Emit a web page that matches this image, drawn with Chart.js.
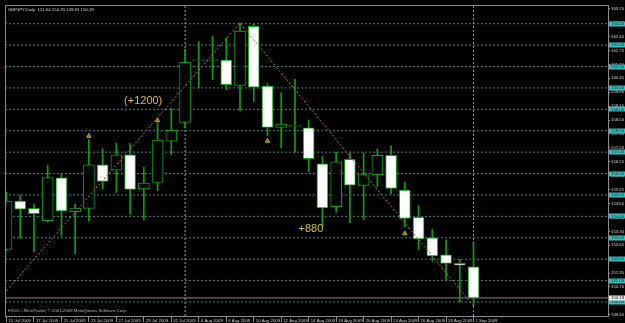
<!DOCTYPE html>
<html>
<head>
<meta charset="utf-8">
<title>GBPJPY Daily</title>
<script src="https://cdn.jsdelivr.net/npm/chart.js@4.4.1/dist/chart.umd.min.js"></script>
<style>
  html, body { margin: 0; padding: 0; background: #000; }
  #wrap { width: 625px; height: 323px; }
</style>
</head>
<body>
<div id="wrap"><canvas id="chart" width="625" height="323"></canvas></div>
<script>
// ---- data ----
const symbol = 'GBPJPY,Daily';
const dates = ['15 Jul 2009', '16 Jul 2009', '17 Jul 2009', '20 Jul 2009', '21 Jul 2009', '22 Jul 2009',
  '23 Jul 2009', '24 Jul 2009', '27 Jul 2009', '28 Jul 2009', '29 Jul 2009', '30 Jul 2009', '31 Jul 2009',
  '3 Aug 2009', '4 Aug 2009', '5 Aug 2009', '6 Aug 2009', '7 Aug 2009', '10 Aug 2009', '11 Aug 2009',
  '12 Aug 2009', '13 Aug 2009', '14 Aug 2009', '17 Aug 2009', '18 Aug 2009', '19 Aug 2009', '20 Aug 2009',
  '21 Aug 2009', '24 Aug 2009', '25 Aug 2009', '26 Aug 2009', '27 Aug 2009', '28 Aug 2009', '31 Aug 2009',
  '1 Sep 2009'];
const opens  = [152.46, 154.71, 154.37, 153.80, 155.80, 154.22, 154.37, 156.41, 156.16, 156.87, 155.28, 155.58,
  157.51, 158.39, 161.27, 161.28, 161.30, 160.12, 162.88, 160.09, 158.16, 158.20, 158.13, 156.45, 154.45,
  156.66, 155.45, 155.95, 156.85, 155.23, 153.95, 153.00, 152.20, 151.80, 151.64];
const highs  = [155.14, 154.99, 154.57, 156.39, 156.00, 154.57, 157.59, 157.16, 157.42, 157.40, 156.29, 158.36,
  159.05, 161.80, 162.16, 162.42, 162.34, 163.03, 162.99, 160.20, 159.77, 160.40, 158.50, 156.80, 157.00,
  157.00, 156.95, 157.15, 157.30, 155.60, 154.50, 153.40, 152.90, 152.00, 152.73];
const lows   = [152.40, 152.99, 152.35, 153.73, 153.07, 152.26, 153.79, 155.29, 155.11, 154.09, 153.82, 155.20,
  156.88, 158.13, 160.00, 160.38, 159.92, 158.94, 159.35, 157.77, 157.20, 157.00, 156.10, 153.55, 154.20,
  153.70, 153.85, 155.40, 155.05, 153.50, 152.45, 151.90, 151.00, 149.99, 149.81];
const closes = [154.71, 154.34, 154.13, 155.81, 154.25, 154.39, 156.41, 155.63, 156.87, 155.26, 155.55, 157.56,
  158.02, 161.19, 161.29, 161.31, 160.15, 162.65, 160.04, 158.16, 158.31, 158.26, 156.70, 154.40, 156.55,
  155.46, 155.95, 156.85, 155.30, 153.90, 152.95, 152.15, 151.80, 151.72, 150.19];

// right price scale labels
const priceTicks = [163.70, 163.05, 162.40, 161.75, 161.10, 160.45, 159.80, 159.15, 158.50, 157.85, 157.20,
  156.55, 155.90, 155.25, 154.60, 153.95, 153.30, 152.65, 152.00, 151.35, 150.70, 150.05, 149.40];
// horizontal line objects
const levels = [163, 162, 161, 160, 159, 158, 157, 156, 155, 154, 153, 152, 151, 150];
// month separators (bar index)
const separators = [13, 34];
// zigzag swing points (bar index / price)
const zigzagIdx = [-4, 17, 34];
const zigzagPrice = [147.57, 163.03, 149.81];
// fractal arrows
const fractalIdx = [6, 11, 19, 29];
const fractalPrice = [157.75, 158.48, 157.52, 153.20];
// text notes anchored in data space
const notes = [
  { text: '(+1200)', idx: 8.56, price: 159.37 },
  { text: '+880', idx: 21.26, price: 153.39 }
];

// ---- view ----
const xMin = -0.108, xMax = 43.79;
const yMin = 149.345, yMax = 163.874;
const green = '#0ea00e';
const grey = '#8a8a8a';
const teal = '#238f8f';
const labelFont = { family: 'Liberation Sans', size: 4.3 };

const last = closes.length - 1;
const idx = dates.map((d, i) => i);
const up = idx.map(i => closes[i] >= opens[i]);

const levelSets = levels.map(p => ({
  type: 'line',
  data: [{ x: xMin, y: p }, { x: xMax, y: p }],
  borderColor: teal, borderWidth: 1, borderDash: [2, 2],
  pointRadius: 0, order: 10
}));
const sepSets = separators.map(i => ({
  type: 'line',
  data: [{ x: i, y: yMin }, { x: i, y: yMax }],
  borderColor: '#9a9a9a', borderWidth: 1, borderDash: [2, 2],
  pointRadius: 0, order: 9
}));

const mt4 = {
  id: 'mt4',
  beforeDraw(chart) {
    const ctx = chart.ctx;
    ctx.save();
    ctx.fillStyle = '#000';
    ctx.fillRect(0, 0, chart.width, chart.height);
    ctx.restore();
  },
  afterDraw(chart) {
    const { ctx, chartArea: a, scales: { x, y } } = chart;
    ctx.save();
    // frame top / left
    ctx.strokeStyle = grey;
    ctx.lineWidth = 1;
    ctx.beginPath();
    ctx.moveTo(a.left + 0.5, a.bottom);
    ctx.lineTo(a.left + 0.5, a.top + 0.5);
    ctx.lineTo(a.right, a.top + 0.5);
    ctx.stroke();

    ctx.font = labelFont.size + 'px "Liberation Sans"';
    ctx.textBaseline = 'middle';
    ctx.textAlign = 'left';
    ctx.fillStyle = '#d0d0d0';
    const head = [opens[last], highs[last], lows[last], closes[last]].map(v => v.toFixed(2)).join(' ');
    ctx.fillText(symbol + '  ' + head, a.left + 3, a.top + 5);
    ctx.fillStyle = '#b0b0b0';
    ctx.fillText('FXDD - MetaTrader, \u00A9 2001-2008 MetaQuotes Software Corp.', a.left + 3, a.bottom - 5);

    // price boxes of the line objects and the bid line
    const box = (p, bg, fg) => {
      const py = y.getPixelForValue(p);
      ctx.fillStyle = bg;
      ctx.fillRect(a.right + 1, Math.round(py) - 2.5, chart.width - a.right - 1, 5);
      ctx.fillStyle = fg;
      ctx.fillText(p.toFixed(2), a.right + 3, py);
    };
    levels.forEach(p => box(p, '#3bbdbd', '#003030'));
    box(closes[last], '#eeeeee', '#000');

    // notes
    ctx.font = '11px "Liberation Sans"';
    ctx.fillStyle = '#dcbf2c';
    notes.forEach(n => ctx.fillText(n.text, x.getPixelForValue(n.idx), y.getPixelForValue(n.price)));
    ctx.restore();
  }
};

new Chart(document.getElementById('chart'), {
  type: 'bar',
  data: {
    datasets: [
      {
        label: 'body',
        data: idx.map(i => ({ x: i, y: [opens[i], closes[i]] })),
        backgroundColor: up.map(u => u ? '#000' : '#fff'),
        borderColor: green, borderWidth: 1, borderSkipped: false,
        barThickness: 11, minBarLength: 1, grouped: false, order: 0
      },
      {
        label: 'wick',
        data: idx.map(i => ({ x: i, y: [lows[i], highs[i]] })),
        backgroundColor: green, borderWidth: 0,
        barThickness: 1, grouped: false, order: 1
      },
      ...levelSets,
      ...sepSets,
      {
        type: 'line',
        label: 'bid',
        data: [{ x: xMin, y: closes[last] }, { x: xMax, y: closes[last] }],
        borderColor: grey, borderWidth: 1, pointRadius: 0, order: 5
      },
      {
        type: 'line',
        label: 'zigzag',
        data: zigzagIdx.map((v, i) => ({ x: v, y: zigzagPrice[i] })),
        borderColor: '#b4622c', borderWidth: 1, borderDash: [2, 2],
        pointRadius: 0, order: -1
      },
      {
        type: 'line',
        label: 'fractals',
        data: fractalIdx.map((v, i) => ({ x: v, y: fractalPrice[i] })),
        showLine: false, pointStyle: 'triangle', pointRadius: 2.5,
        backgroundColor: '#7c6e0c', borderColor: '#c0a820', borderWidth: 1, order: -2
      }
    ]
  },
  options: {
    responsive: false,
    animation: false,
    events: [],
    layout: { padding: 0 },
    plugins: { legend: { display: false }, tooltip: { enabled: false } },
    scales: {
      x: {
        type: 'linear', position: 'bottom', min: xMin, max: xMax, offset: false,
        afterBuildTicks: s => { s.ticks = idx.filter(i => i % 2 === 0).map(v => ({ value: v })); },
        afterFit: s => { s.height = 7; s.paddingLeft = 0; s.paddingRight = 0; },
        ticks: {
          autoSkip: false, maxRotation: 0, minRotation: 0, align: 'start',
          labelOffset: 2, padding: -4, color: '#d0d0d0', font: labelFont,
          callback: v => dates[v]
        },
        grid: { offset: false, drawOnChartArea: false, drawTicks: true, tickLength: 6, color: grey },
        border: { display: true, color: grey }
      },
      y: {
        type: 'linear', position: 'right', min: yMin, max: yMax, beginAtZero: false,
        afterBuildTicks: s => { s.ticks = priceTicks.map(v => ({ value: v })); },
        afterFit: s => { s.width = 17; s.paddingTop = 0; s.paddingBottom = 0; },
        ticks: { autoSkip: false, padding: 1, color: '#d4d4d4', font: labelFont, callback: v => v.toFixed(2) },
        grid: { drawOnChartArea: false, drawTicks: true, tickLength: 2, color: grey },
        border: { display: true, color: grey }
      }
    }
  },
  plugins: [mt4]
});
</script>
</body>
</html>
